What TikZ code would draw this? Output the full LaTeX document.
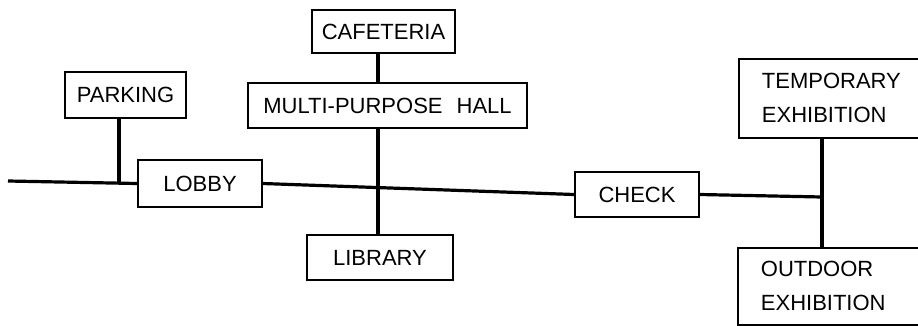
\documentclass[tikz,border=0pt]{standalone}
\usepackage{fontspec}
\setmainfont{Liberation Sans}
\usepackage{tikz}
\usetikzlibrary{positioning,calc}

\begin{document}
\begin{tikzpicture}[x=1pt,y=-1pt,
    room/.style={draw, line width=1.8pt, inner sep=0pt, font=\fontsize{22}{34}\selectfont},
    wing/.style={room, anchor=north west, align=left, text width=170pt, inner xsep=23pt},
    link/.style={line width=3.2pt}]
    \useasboundingbox (0,0) rectangle (918,325);
    \clip (0,0) rectangle (918,325);

    % Rooms
    \node[room, minimum width=121pt, minimum height=46pt] (parking) at (125.5,95) {PARKING};
    \node[room, minimum width=124pt, minimum height=47pt] (lobby) at (200,183.5) {LOBBY};
    \node[room, minimum width=143pt, minimum height=43pt] (cafe) at (383.5,31.5) {CAFETERIA};
    \node[room, minimum width=279pt, minimum height=45pt] (hall) at (387.5,105.5) {MULTI-PURPOSE\hspace{14pt}HALL};
    \node[room, minimum width=146pt, minimum height=45pt] (library) at (380,257.5) {LIBRARY};
    \node[room, minimum width=124pt, minimum height=45pt] (check) at (637,194.5) {CHECK};
    \node[wing, minimum height=79pt] (temp) at (738,58) {TEMPORARY\\EXHIBITION};
    \node[wing, minimum height=77pt] (outdoor) at (737,247) {OUTDOOR\\EXHIBITION};

    % Junctions
    \coordinate (entry) at (8,181);
    \coordinate (pj) at (119,182);
    \coordinate (hj) at (378,187);
    \coordinate (ej) at (822,197);

    % Connectors
    \draw[link] (entry) -- (lobby.west);
    \draw[link] (parking.south -| pj) -- (pj);
    \draw[link] (lobby.east) -- (check.west);
    \draw[link] (check.east) -- (ej);
    \draw[link] (cafe.south -| hj) -- (hall.north -| hj);
    \draw[link] (hall.south -| hj) -- (library.north -| hj);
    \draw[link] (temp.south -| ej) -- (outdoor.north -| ej);
\end{tikzpicture}
\end{document}
